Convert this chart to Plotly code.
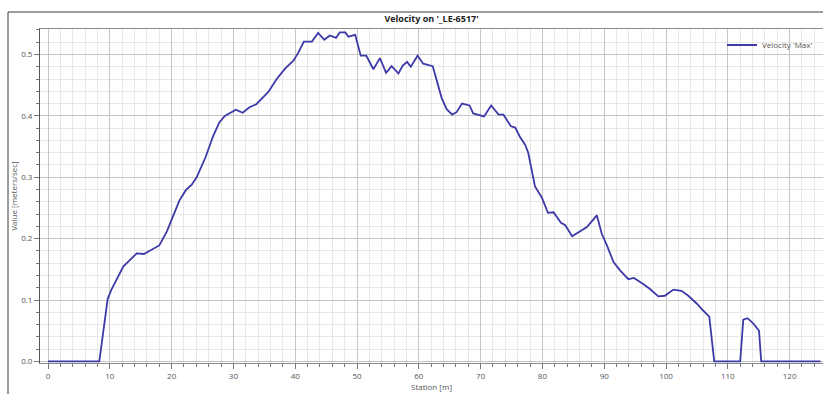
import plotly.graph_objects as go

station = [0, 8.3, 9.65, 10.3, 12.2, 13.3, 14.35, 15.5, 16.8, 18.0, 19.2, 20.3, 21.25, 22.3, 23.25,
           24.05, 25.5, 26.75, 27.7, 28.6, 30.4, 31.5, 32.6, 33.7, 34.6, 35.65, 37.0, 38.35, 39.7,
           40.5, 41.4, 42.7, 43.7, 44.7, 45.6, 46.6, 47.2, 48.1, 48.6, 49.7, 50.6, 51.5, 52.65, 53.7,
           54.7, 55.6, 56.7, 57.4, 58.1, 58.7, 59.8, 60.7, 62.25, 63.7, 64.5, 65.4, 66.1, 67.0, 68.2,
           68.8, 70.55, 71.7, 72.9, 73.7, 74.9, 75.6, 76.4, 77.2, 77.7, 78.8, 79.9, 80.9, 81.8, 83.0,
           83.7, 84.8, 87.2, 88.8, 89.6, 90.4, 91.5, 92.6, 93.9, 94.8, 96.3, 97.4, 98.75, 99.8, 101.2,
           102.5, 103.6, 105.0, 106.0, 107.0, 107.8, 112.0, 112.5, 113.2, 114.1, 115.05, 115.4, 125.0]

velocity_max = [0, 0, 0.102, 0.118, 0.155, 0.166, 0.176, 0.175, 0.183, 0.189, 0.211, 0.240, 0.262,
                0.279, 0.288, 0.300, 0.333, 0.368, 0.389, 0.400, 0.410, 0.405, 0.414, 0.419, 0.429,
                0.439, 0.460, 0.477, 0.490, 0.503, 0.521, 0.521, 0.535, 0.524, 0.531, 0.527, 0.536,
                0.536, 0.529, 0.532, 0.498, 0.498, 0.476, 0.494, 0.470, 0.481, 0.469, 0.482, 0.488,
                0.480, 0.498, 0.485, 0.481, 0.429, 0.411, 0.402, 0.406, 0.420, 0.417, 0.404, 0.399,
                0.417, 0.402, 0.402, 0.383, 0.381, 0.365, 0.353, 0.340, 0.285, 0.267, 0.242, 0.243,
                0.226, 0.222, 0.204, 0.219, 0.238, 0.208, 0.190, 0.162, 0.148, 0.134, 0.136, 0.126,
                0.118, 0.106, 0.107, 0.117, 0.115, 0.107, 0.094, 0.083, 0.073, 0, 0, 0.068, 0.0705,
                0.062, 0.050, 0, 0]

title_text = "Velocity on '_LE-6517'"
series_name = "Velocity 'Max'"
x_title = "Station [m]"
y_title = "Value [meters/sec]"

FONT = "Open Sans, Noto Sans, sans-serif"
MAJOR_GRID = "#c6c6c6"
MINOR_GRID = "#e8e8e8"
TEXT = "#555555"

W, H = 823, 394
L, R, T, B = 40, 0, 29, 31
PW, PH = W - L - R, H - T - B

fig = go.Figure()
fig.add_trace(go.Scatter(
    x=station, y=velocity_max, mode="lines", name=series_name,
    line=dict(color="#3d3aa8", width=1.8),
))

fig.update_layout(
    width=W, height=H, autosize=False,
    margin=dict(l=L, r=R, t=T, b=B, autoexpand=False),
    paper_bgcolor="white", plot_bgcolor="white",
    font=dict(family=FONT, size=8, color=TEXT),
    title=dict(text="<b>" + title_text + "</b>", x=0.5, xref="paper", xanchor="center",
               y=1 - 19 / H, yref="container", yanchor="middle",
               font=dict(family=FONT, size=9, color="#222222")),
    showlegend=True,
    legend=dict(x=(722 - L) / PW, xanchor="left", y=1 - (45 - T) / PH, yanchor="middle",
                bgcolor="rgba(0,0,0,0)", font=dict(family=FONT, size=8, color=TEXT),
                itemwidth=30),
    shapes=[
        dict(type="line", xref="paper", yref="paper", x0=(8 - L) / PW, x1=1.01,
             y0=1 + (T - 12) / PH, y1=1 + (T - 12) / PH, line=dict(color="#3a3a3a", width=1)),
        dict(type="line", xref="paper", yref="paper", x0=(8 - L) / PW, x1=(8 - L) / PW,
             y0=1 + (T - 12) / PH, y1=-0.2, line=dict(color="#3a3a3a", width=1)),
    ],
)

fig.update_xaxes(
    range=[-1.3, 125.4], dtick=10, tick0=0,
    showgrid=True, gridcolor=MAJOR_GRID, gridwidth=1,
    showline=True, linecolor="#8a8a8a", linewidth=1, mirror=True,
    ticks="outside", ticklen=5, tickcolor="#777777",
    minor=dict(dtick=2, tick0=0, showgrid=True, gridcolor=MINOR_GRID, ticks="outside",
               ticklen=3, tickcolor="#777777"),
    zeroline=False, automargin=False,
    title=dict(text=x_title, standoff=0, font=dict(family=FONT, size=8, color=TEXT)),
    tickfont=dict(family=FONT, size=8, color=TEXT),
)
fig.update_yaxes(
    range=[-0.0025, 0.5415], dtick=0.1, tick0=0, tickformat=".1f",
    showgrid=True, gridcolor=MAJOR_GRID, gridwidth=1,
    showline=True, linecolor="#555555", linewidth=1,
    ticks="outside", ticklen=5, tickcolor="#777777",
    minor=dict(dtick=0.02, tick0=0, showgrid=True, gridcolor=MINOR_GRID, ticks="outside",
               ticklen=3, tickcolor="#777777"),
    zeroline=False, automargin=False,
    title=dict(text=y_title, standoff=2, font=dict(family=FONT, size=8, color=TEXT)),
    tickfont=dict(family=FONT, size=8, color=TEXT),
)

fig.write_html(
    "out.html",
    config={"displayModeBar": False},
    post_script="document.body.style.margin='0';document.body.style.overflow='hidden';",
)
